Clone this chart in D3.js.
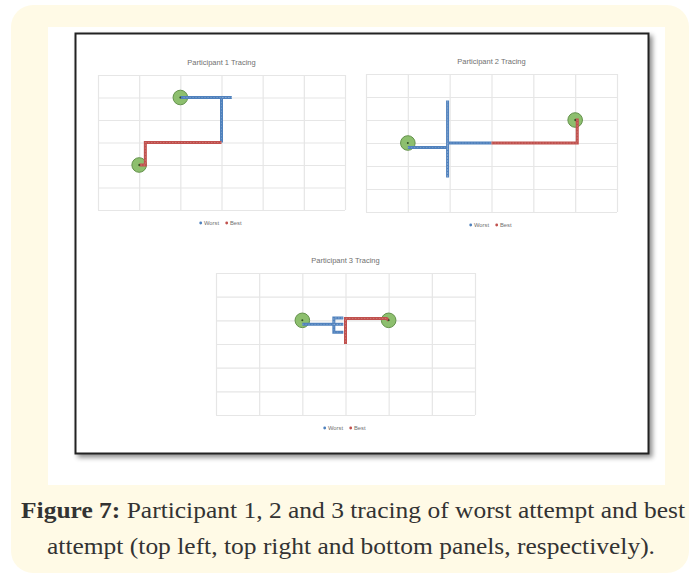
<!DOCTYPE html>
<html>
<head>
<meta charset="utf-8">
<script src="https://cdn.jsdelivr.net/npm/d3@7"></script>
<style>
  body { margin: 0; background: #fff; }
</style>
</head>
<body>
<div id="chart"></div>
<script>
// panel titles
const titles = ["Participant 1 Tracing", "Participant 2 Tracing", "Participant 3 Tracing"];
// grid domain (0..6 on both axes, gridline every 1)
const gridTicks = [0, 1, 2, 3, 4, 5, 6];

// Participant 1
const p1Worst = [[2, 5], [3.25, 5], [3, 5], [3, 3]];
const p1Best = [[3, 3], [1.15, 3], [1.15, 2], [1, 2]];
const p1Targets = [[2, 5], [1, 2]];

// Participant 2
const p2Worst = [[1, 2.8], [1.95, 2.8], [1.95, 4.85], [1.95, 1.5], [1.95, 3], [3, 3]];
const p2Best = [[3, 3], [5.05, 3], [5.05, 4], [5, 4]];
const p2Targets = [[1, 3], [5, 4]];

// Participant 3
const p3Worst = [[2, 3.83], [2.73, 3.83], [2.73, 4.1], [2.95, 4.1], [2.73, 4.1], [2.73, 3.83],
                 [2.95, 3.83], [2.73, 3.83], [2.73, 3.5], [2.95, 3.5]];
const p3Best = [[4, 4], [3.95, 4.08], [3, 4.08], [3, 3]];
const p3Targets = [[2, 4], [4, 4]];

const legendNames = ["Worst", "Best"];
const seriesColors = ["#4f81bd", "#c0504d"];

const W = 691, H = 577;
const svg = d3.select("#chart").append("svg")
    .attr("width", W)
    .attr("height", H)
    .style("font-family", "'Liberation Sans', Arial, sans-serif");

// cream outer card
svg.append("rect")
    .attr("x", 11).attr("y", 5)
    .attr("width", 678).attr("height", 568)
    .attr("rx", 22)
    .attr("fill", "#fffae6");

// white figure area
svg.append("rect")
    .attr("x", 48).attr("y", 27)
    .attr("width", 617).attr("height", 458)
    .attr("fill", "#ffffff");

// shadow + black frame
const defs = svg.append("defs");
const f = defs.append("filter").attr("id", "shadow").attr("x", "-5%").attr("y", "-5%").attr("width", "115%").attr("height", "115%");
f.append("feGaussianBlur").attr("in", "SourceAlpha").attr("stdDeviation", 2.5);
f.append("feOffset").attr("dx", 3).attr("dy", 3).attr("result", "b");
f.append("feComponentTransfer").append("feFuncA").attr("type", "linear").attr("slope", 0.45);
const fm = f.append("feMerge");
fm.append("feMergeNode");
fm.append("feMergeNode").attr("in", "SourceGraphic");

svg.append("rect")
    .attr("x", 75.5).attr("y", 33.5)
    .attr("width", 573).attr("height", 420)
    .attr("fill", "#ffffff")
    .attr("stroke", "#222")
    .attr("stroke-width", 2)
    .attr("filter", "url(#shadow)");

// one tracing panel
function drawPanel(box, title, worst, best, targets) {
    const x = d3.scaleLinear().domain([0, 6]).range([box.x0, box.x1]);
    const y = d3.scaleLinear().domain([0, 6]).range([box.y1, box.y0]);
    const g = svg.append("g");

    // gridlines
    g.append("g")
        .attr("transform", `translate(0,${box.y1})`)
        .call(d3.axisBottom(x).tickValues(gridTicks).tickSize(-(box.y1 - box.y0)).tickFormat(""))
        .call(s => s.select(".domain").remove())
        .selectAll("line").attr("stroke", "#e6e6e6").attr("stroke-width", 1.2);
    g.append("g")
        .attr("transform", `translate(${box.x0},0)`)
        .call(d3.axisLeft(y).tickValues(gridTicks).tickSize(-(box.x1 - box.x0)).tickFormat(""))
        .call(s => s.select(".domain").remove())
        .selectAll("line").attr("stroke", "#e6e6e6").attr("stroke-width", 1.2);

    // title
    g.append("text")
        .attr("x", (box.x0 + box.x1) / 2)
        .attr("y", box.y0 - 10)
        .attr("text-anchor", "middle")
        .attr("font-size", 7.5)
        .attr("fill", "#707070")
        .text(title);

    const line = d3.line().x(d => x(d[0])).y(d => y(d[1]));

    // green target circles (under the lines)
    g.selectAll("circle.t")
        .data(targets)
        .enter().append("circle")
        .attr("cx", d => x(d[0]))
        .attr("cy", d => y(d[1]))
        .attr("r", 7.3)
        .attr("fill", "#8dbf6e")
        .attr("stroke", "#64924c")
        .attr("stroke-width", 1);

    [worst, best].forEach((s, i) => {
        g.append("path")
            .attr("d", line(s))
            .attr("fill", "none")
            .attr("stroke", seriesColors[i])
            .attr("stroke-width", 3)
            .attr("stroke-linejoin", "miter")
            .attr("stroke-linecap", "butt");
        // dotted texture from the markers
        g.append("path")
            .attr("d", line(s))
            .attr("fill", "none")
            .attr("stroke", "#ffffff")
            .attr("stroke-opacity", 0.2)
            .attr("stroke-width", 1)
            .attr("stroke-dasharray", "1.5 1.5");
    });

    g.selectAll("circle.c")
        .data(targets)
        .enter().append("circle")
        .attr("cx", d => x(d[0]))
        .attr("cy", d => y(d[1]))
        .attr("r", 1)
        .attr("fill", "#2f4f23");

    // legend
    const lx = (box.x0 + box.x1) / 2;
    const ly = box.y1 + 13;
    const lg = g.append("g").attr("transform", `translate(${lx - 22},${ly})`);
    legendNames.forEach((n, i) => {
        const item = lg.append("g").attr("transform", `translate(${i * 26},0)`);
        item.append("circle")
            .attr("cx", 1.2).attr("cy", 0)
            .attr("r", 1.4)
            .attr("fill", seriesColors[i]);
        item.append("text")
            .attr("x", 4.5).attr("y", 2)
            .attr("font-size", 5.8)
            .attr("fill", "#707070")
            .text(n);
    });
}

drawPanel({ x0: 98, x1: 345, y0: 75, y1: 210 }, titles[0], p1Worst, p1Best, p1Targets);
drawPanel({ x0: 366, x1: 617, y0: 74, y1: 212 }, titles[1], p2Worst, p2Best, p2Targets);
drawPanel({ x0: 216, x1: 475, y0: 273, y1: 415 }, titles[2], p3Worst, p3Best, p3Targets);

// caption
const capFont = "'Liberation Serif', 'Times New Roman', serif";
const cap1 = svg.append("text")
    .attr("x", 353).attr("y", 518)
    .attr("text-anchor", "middle")
    .attr("font-family", capFont)
    .attr("font-size", 23)
    .attr("fill", "#333")
    .attr("textLength", 664)
    .attr("lengthAdjust", "spacingAndGlyphs");
cap1.append("tspan").attr("font-weight", "bold").text("Figure 7:");
cap1.append("tspan").text(" Participant 1, 2 and 3 tracing of worst attempt and best");

svg.append("text")
    .attr("x", 351).attr("y", 554)
    .attr("text-anchor", "middle")
    .attr("font-family", capFont)
    .attr("font-size", 23)
    .attr("fill", "#333")
    .attr("textLength", 608)
    .attr("lengthAdjust", "spacingAndGlyphs")
    .text("attempt (top left, top right and bottom panels, respectively).");
</script>
</body>
</html>
